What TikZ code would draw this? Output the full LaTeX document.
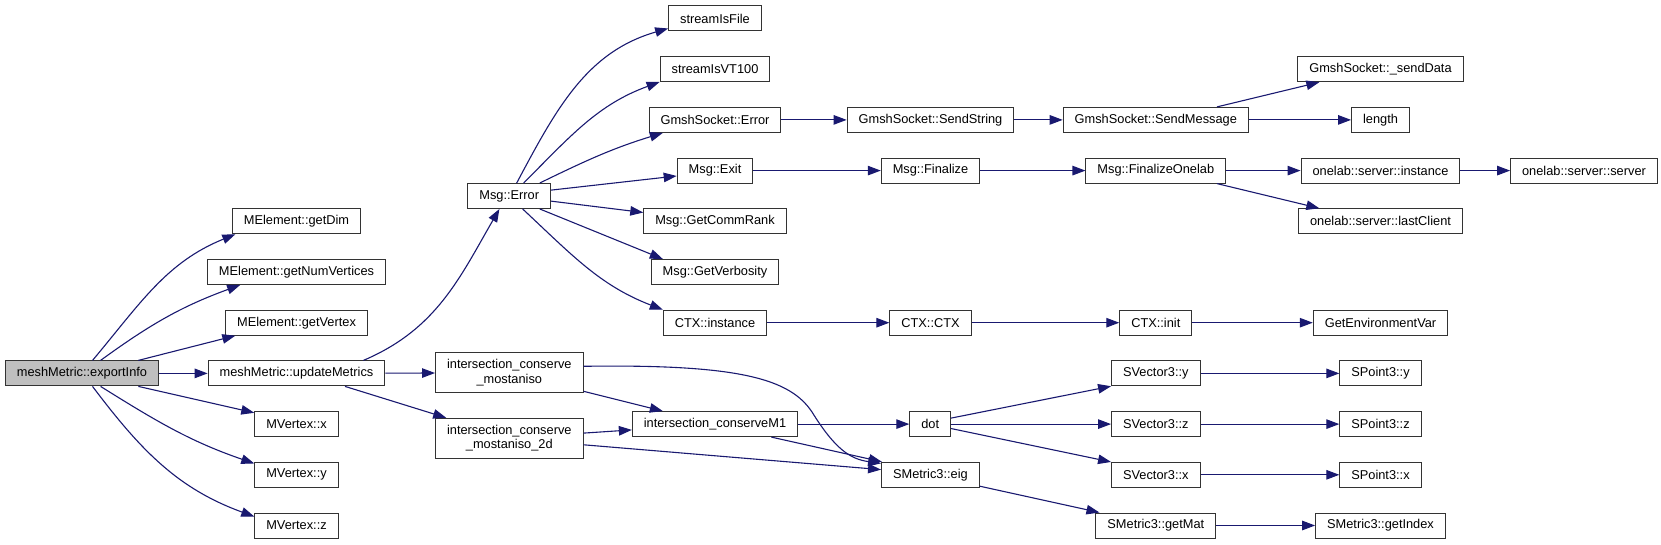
\documentclass[tikz,border=0pt]{standalone}
\usepackage{fontspec}
\setmainfont{Liberation Sans}
\usetikzlibrary{arrows.meta}
\definecolor{EdgeBlue}{HTML}{191970}
\definecolor{RootGrey}{HTML}{BFBFBF}
\definecolor{BoxLine}{HTML}{333333}

\begin{document}
\begin{tikzpicture}[x=1pt, y=1pt,
  fn/.style={draw=BoxLine, fill=white, line width=1pt, minimum height=25pt, inner xsep=11.5pt, inner ysep=2pt, font=\fontsize{12.8}{14.6}\selectfont},
  root/.style={fn, fill=RootGrey},
  twoline/.style={fn, align=center, minimum height=40pt},
  arrow/.style={-{Triangle[length=13pt,width=9.5pt]}, line width=1.1pt, draw=EdgeBlue}
]
  \useasboundingbox (0,0) rectangle (1661,544);

  % caller and first level
  \node[root] (ei) at (82,170.6) {meshMetric::exportInfo};
  \node[fn] (gd) at (296.5,322.7) {MElement::getDim};
  \node[fn] (gn) at (296.5,272) {MElement::getNumVertices};
  \node[fn] (gv) at (296.5,221.3) {MElement::getVertex};
  \node[fn] (um) at (296.5,170.6) {meshMetric::updateMetrics};
  \node[fn] (mx) at (296.5,119.9) {MVertex::x};
  \node[fn] (my) at (296.5,69.2) {MVertex::y};
  \node[fn] (mz) at (296.5,18.5) {MVertex::z};

  \node[fn] (me) at (509.2,348) {Msg::Error};
  \node[twoline] (ma) at (509.3,171.2) {intersection\_conserve\\\_mostaniso};
  \node[twoline] (m2) at (509.3,105.7) {intersection\_conserve\\\_mostaniso\_2d};

  \node[fn] (sf) at (715,525.5) {streamIsFile};
  \node[fn] (sv) at (715,474.8) {streamIsVT100};
  \node[fn] (ge) at (715,424.1) {GmshSocket::Error};
  \node[fn] (mex) at (715,373.4) {Msg::Exit};
  \node[fn] (gc) at (715,322.7) {Msg::GetCommRank};
  \node[fn] (gvb) at (715,272) {Msg::GetVerbosity};
  \node[fn] (ci) at (715,221.3) {CTX::instance};
  \node[fn] (m1) at (715,119.9) {intersection\_conserveM1};

  \node[fn] (ss) at (930.5,424.1) {GmshSocket::SendString};
  \node[fn] (fi) at (930.5,373.4) {Msg::Finalize};
  \node[fn] (cc) at (930.5,221.3) {CTX::CTX};
  \node[fn] (dt) at (930.2,119.9) {dot};
  \node[fn] (eg) at (930.4,69.2) {SMetric3::eig};

  \node[fn] (sm) at (1155.8,424.1) {GmshSocket::SendMessage};
  \node[fn] (fo) at (1155.8,373.4) {Msg::FinalizeOnelab};
  \node[fn] (cn) at (1155.8,221.3) {CTX::init};
  \node[fn] (s3y) at (1155.8,170.6) {SVector3::y};
  \node[fn] (s3z) at (1155.8,119.9) {SVector3::z};
  \node[fn] (s3x) at (1155.8,69.2) {SVector3::x};
  \node[fn] (gm) at (1155.8,18.5) {SMetric3::getMat};

  \node[fn] (sd) at (1380.5,474.8) {GmshSocket::\_sendData};
  \node[fn] (ln) at (1380.5,424.1) {length};
  \node[fn] (osi) at (1380.5,373.4) {onelab::server::instance};
  \node[fn] (olc) at (1380.5,322.7) {onelab::server::lastClient};
  \node[fn] (gev) at (1380.5,221.3) {GetEnvironmentVar};
  \node[fn] (p3y) at (1380.5,170.6) {SPoint3::y};
  \node[fn] (p3z) at (1380.5,119.9) {SPoint3::z};
  \node[fn] (p3x) at (1380.5,69.2) {SPoint3::x};
  \node[fn] (gi) at (1380.5,18.5) {SMetric3::getIndex};
  \node[fn] (oss) at (1584,373.4) {onelab::server::server};

  % exportInfo
  \draw[arrow] (ei.51) to[out=50,in=202] (gd.192);
  \draw[arrow] (ei.35) to[out=36,in=200] (gn.193);
  \draw[arrow] (ei.13) -- (gv.192);
  \draw[arrow] (ei) -- (um);
  \draw[arrow] (ei.347) -- (mx.165);
  \draw[arrow] (ei.325) to[out=-32,in=161] (my.165);
  \draw[arrow] (ei.309) to[out=-53,in=160] (mz.168);

  % updateMetrics
  \draw[arrow] (um.11) to[out=23,in=240] (me.233);
  \draw[arrow] (um) -- (ma);
  \draw[arrow] (um.345) -- (m2.162);

  % Msg::Error
  \draw[arrow] (me.60) to[out=62,in=196] (sf.192);
  \draw[arrow] (me.42) to[out=45,in=200] (sv.193);
  \draw[arrow] (me.23) to[out=26,in=197] (ge.194);
  \draw[arrow] (me.8) -- (mex.188);
  \draw[arrow] (me.353) -- (gc.173);
  \draw[arrow] (me.337) -- (gvb.166);
  \draw[arrow] (me.316) to[out=-43,in=159] (ci.166);

  \draw[arrow] (ge) -- (ss);
  \draw[arrow] (ss) -- (sm);
  \draw[arrow] (sm.12) -- (sd.192);
  \draw[arrow] (sm) -- (ln);

  \draw[arrow] (mex) -- (fi);
  \draw[arrow] (fi) -- (fo);
  \draw[arrow] (fo) -- (osi);
  \draw[arrow] (osi) -- (oss);
  \draw[arrow] (fo.348) -- (olc.168);

  \draw[arrow] (ci) -- (cc);
  \draw[arrow] (cc) -- (cn);
  \draw[arrow] (cn) -- (gev);

  % intersection_conserve
  \draw[arrow] (ma.346) -- (m1.166);
  \draw[arrow] (ma.5) .. controls (740,180) and (790,165) .. (812,132) .. controls (835,95) and (850,85) .. (eg.167);
  \draw[arrow] (m2.4) -- (m1.184);
  \draw[arrow] (m2.355) -- (eg.174);
  \draw[arrow] (m1) -- (dt);
  \draw[arrow] (m1.347) -- (eg.165);

  \draw[arrow] (dt.16) -- (s3y.196);
  \draw[arrow] (dt) -- (s3z);
  \draw[arrow] (dt.348) -- (s3x.164);
  \draw[arrow] (s3y) -- (p3y);
  \draw[arrow] (s3z) -- (p3z);
  \draw[arrow] (s3x) -- (p3x);

  \draw[arrow] (eg.347) -- (gm.167);
  \draw[arrow] (gm) -- (gi);
\end{tikzpicture}
\end{document}
